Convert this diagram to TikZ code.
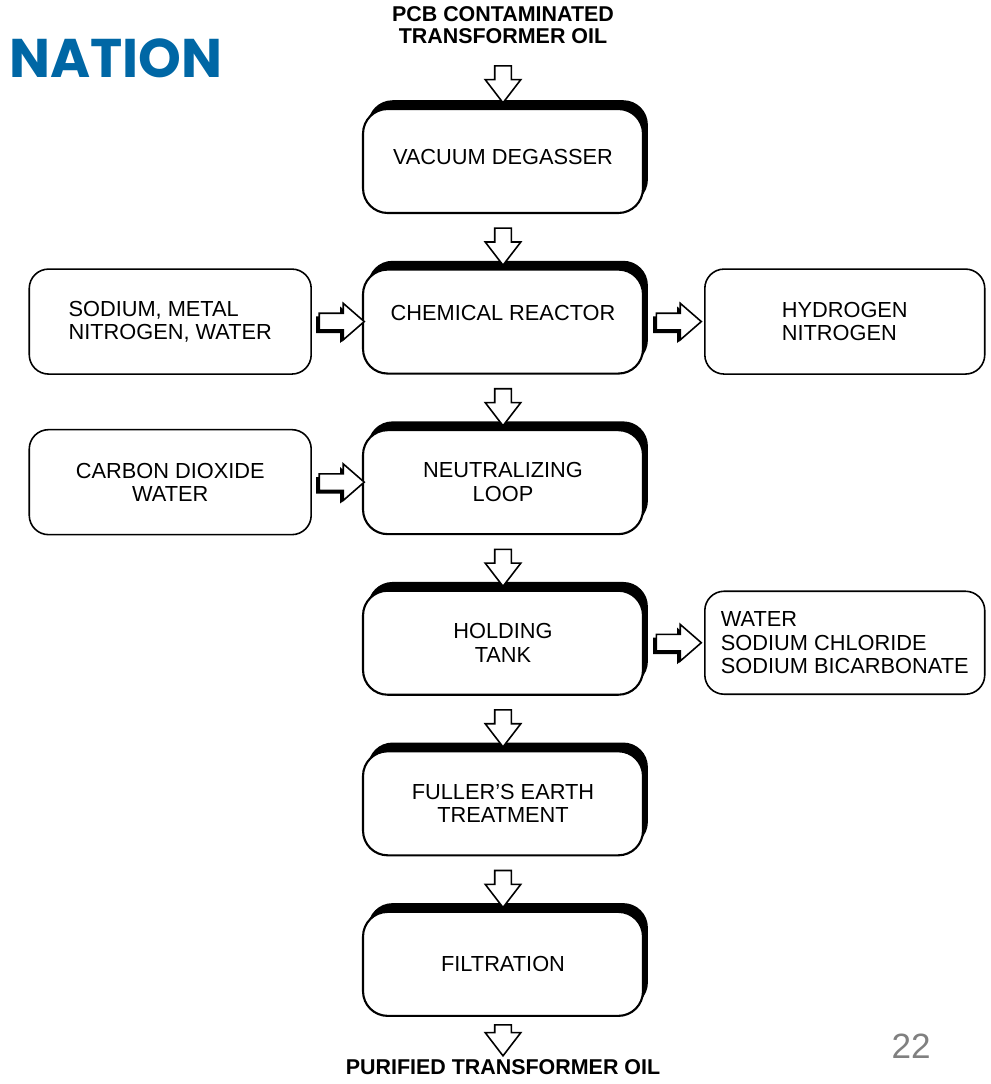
\documentclass[tikz,border=0pt]{standalone}
\usepackage{fontspec}
\setmainfont{Liberation Sans}
\newfontfamily\headfont{Poppins}
\usetikzlibrary{positioning,shapes.arrows,shadows}
\definecolor{slideblue}{RGB}{0,103,165}

\begin{document}
\begin{tikzpicture}[x=0.02cm,y=-0.02cm]
	\tikzstyle{term} = [font=\bfseries\fontsize{12.2}{12.6}\selectfont, align=center]
	\tikzstyle{stagebox} = [rectangle, draw, line width=1.2pt, fill=white, rounded corners=14pt, minimum width=5.6cm, minimum height=2.08cm, align=center, font=\fontsize{12.4}{13.4}\selectfont, general shadow={fill=black, shadow xshift=2.8pt, shadow yshift=5pt}]
	\tikzstyle{sidebox} = [rectangle, draw, line width=0.9pt, rounded corners=11pt, minimum width=5.64cm, minimum height=2.1cm, align=left, font=\fontsize{12.4}{13.2}\selectfont]
	\tikzstyle{downarrow} = [single arrow, draw, line width=0.9pt, fill=white, shape border rotate=270, minimum height=0.74cm, minimum width=0.68cm, inner sep=0.15cm, single arrow head extend=0.19cm, single arrow tip angle=75]
	\tikzstyle{sidearrow} = [single arrow, draw, line width=0.9pt, fill=white, minimum height=0.9cm, minimum width=0.7cm, inner sep=0.15cm, single arrow head extend=0.2cm, single arrow tip angle=82, general shadow={fill=black, shadow xshift=-1.8pt, shadow yshift=-1.8pt}]
	\useasboundingbox (0,0) rectangle (990,1084);

	% slide heading and page number
	\node [anchor=base west, inner sep=0, text=slideblue, font=\headfont\bfseries\fontsize{31}{31}\selectfont] (heading) at (9,78) {NATION};
	\node [anchor=base east, inner sep=0, text=gray, font=\fontsize{20}{20}\selectfont] (pagenum) at (931,1058) {22};

	% main process chain
	\node [term] (source) at (503,25) {PCB CONTAMINATED\\TRANSFORMER OIL};
	\node [stagebox, text depth=0.16cm] (degasser) at (503,161) {VACUUM DEGASSER};
	\node [stagebox, below=1.09cm of degasser, text depth=0.36cm] (reactor) {CHEMICAL REACTOR};
	\node [stagebox, below=1.09cm of reactor] (neutral) {NEUTRALIZING\\LOOP};
	\node [stagebox, below=1.09cm of neutral] (holding) {HOLDING\\TANK};
	\node [stagebox, below=1.09cm of holding] (fuller) {FULLER'S EARTH\\TREATMENT};
	\node [stagebox, below=1.09cm of fuller] (filtration) {FILTRATION};
	\node [term, below=0.72cm of filtration] (product) {PURIFIED TRANSFORMER OIL};

	% inputs and outputs
	\node [sidebox, left=1cm of reactor] (sodium) {SODIUM, METAL\\NITROGEN, WATER};
	\node [sidebox, right=1.2cm of reactor, minimum width=5.6cm] (gases) {HYDROGEN\\NITROGEN};
	\node [sidebox, left=1cm of neutral, align=center] (dioxide) {CARBON DIOXIDE\\WATER};
	\node [sidebox, right=1.2cm of holding, minimum width=5.6cm, minimum height=2.06cm] (salts) {WATER\\SODIUM CHLORIDE\\SODIUM BICARBONATE};

	\path (source) -- (degasser) node [midway, downarrow] (a0) {};
	\path (degasser) -- (reactor) node [midway, downarrow] (a1) {};
	\path (reactor) -- (neutral) node [midway, downarrow] (a2) {};
	\path (neutral) -- (holding) node [midway, downarrow] (a3) {};
	\path (holding) -- (fuller) node [midway, downarrow] (a4) {};
	\path (fuller) -- (filtration) node [midway, downarrow] (a5) {};
	\path (filtration) -- (product) node [midway, downarrow, minimum height=0.62cm] (a6) {};

	\path (sodium) -- (reactor) node [midway, sidearrow] (b1) {};
	\path (reactor) -- (gases) node [midway, sidearrow] (b2) {};
	\path (dioxide) -- (neutral) node [midway, sidearrow] (b3) {};
	\path (holding) -- (salts) node [midway, sidearrow] (b4) {};
\end{tikzpicture}
\end{document}
